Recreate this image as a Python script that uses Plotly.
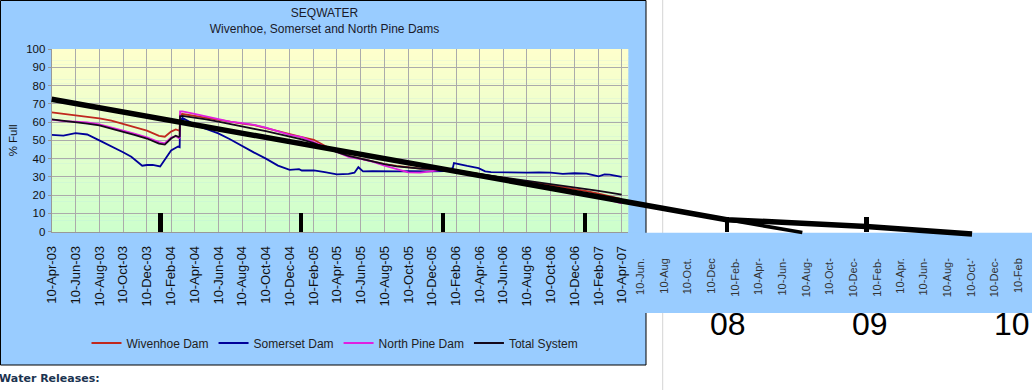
import datetime as dt
import plotly.graph_objects as go

# ---------------- data ----------------
main_dates = [
    "2003-04-10", "2003-05-10", "2003-06-10", "2003-07-10", "2003-08-10", "2003-09-10",
    "2003-10-10", "2003-11-10", "2003-12-10", "2004-01-10",
    "2004-01-25", "2004-02-10", "2004-02-22", "2004-03-01", "2004-03-03", "2004-03-04",
    "2004-03-10", "2004-04-10", "2004-05-10", "2004-06-10", "2004-07-10", "2004-08-10",
    "2004-09-10", "2004-10-10", "2004-11-10", "2004-12-10",
    "2005-01-10", "2005-02-10", "2005-03-10", "2005-04-10", "2005-05-10", "2005-06-10",
    "2005-07-10", "2005-08-10", "2005-09-10", "2005-10-10", "2005-11-10", "2005-12-10",
    "2006-01-10", "2006-02-10", "2006-03-10", "2006-04-10", "2006-05-10", "2006-06-10",
    "2006-07-10", "2006-08-10", "2006-09-10", "2006-10-10", "2006-11-10", "2006-12-10",
    "2007-01-10", "2007-02-10", "2007-03-10", "2007-04-10",
]
wivenhoe = [
    65.3, 64.5, 63.8, 63.0, 62.0, 60.8, 59.0, 57.2, 55.3, 52.5,
    52.0, 54.8, 56.0, 55.4, 55.7, 64.0,
    64.4, 63.4, 62.3, 61.2, 60.1, 59.2, 58.3, 56.6, 55.0, 53.2,
    51.8, 50.3, 47.0, 44.0, 41.5, 40.0, 38.5, 37.0, 36.0, 35.2, 34.5, 34.3,
    34.2, 33.5, 32.5, 31.5, 30.5, 29.5, 28.5, 27.5, 26.5, 25.5, 24.5, 23.4,
    22.2, 20.8, 19.3, 17.8,
]
north_pine = [
    61.4, 60.5, 60.3, 59.8, 58.8, 57.2, 55.3, 53.6, 51.7, 49.0,
    48.4, 51.5, 52.3, 51.2, 51.5, 65.8,
    65.8, 64.5, 63.0, 61.3, 60.2, 59.4, 58.5, 57.0, 55.0, 53.0,
    51.8, 49.0, 46.5, 43.8, 41.0, 39.8, 38.3, 36.2, 34.3, 32.5, 32.3, 33.0,
    34.0, 33.6, 32.5, 31.3, 30.2, 29.0, 27.9, 26.7, 25.5, 24.3, 23.0, 21.8,
    20.4, 18.9, 17.2, 15.5,
]
total_system = [
    61.5, 60.8, 60.2, 59.2, 58.2, 56.5, 54.5, 52.8, 51.0, 48.2,
    47.7, 51.0, 52.5, 51.8, 52.2, 63.2,
    63.4, 62.6, 61.5, 60.2, 58.8, 57.5, 56.3, 55.0, 53.6, 52.2,
    50.5, 48.5, 46.0, 43.5, 41.5, 40.0, 38.3, 37.0, 35.8, 35.0, 34.5, 34.4,
    34.0, 33.3, 32.5, 31.6, 30.7, 29.8, 28.9, 28.0, 27.1, 26.2, 25.3, 24.4,
    23.4, 22.4, 21.4, 20.3,
]
somerset_dates = [
    "2003-04-10", "2003-05-10", "2003-06-10", "2003-07-10", "2003-08-10", "2003-09-10",
    "2003-10-10", "2003-10-31", "2003-11-28", "2003-12-10", "2003-12-25", "2004-01-13",
    "2004-01-22", "2004-02-10", "2004-02-28", "2004-03-03", "2004-03-04", "2004-03-10",
    "2004-04-10", "2004-05-10", "2004-06-10", "2004-07-10", "2004-08-10", "2004-09-10",
    "2004-10-10", "2004-11-10", "2004-12-10", "2005-01-03", "2005-01-10", "2005-02-10",
    "2005-03-10", "2005-04-10", "2005-05-10", "2005-05-25", "2005-06-04", "2005-06-16",
    "2005-07-10", "2005-08-10", "2005-09-10", "2005-10-10", "2005-11-10", "2005-12-10",
    "2006-01-10", "2006-02-01", "2006-02-04", "2006-02-20", "2006-03-10", "2006-04-08",
    "2006-04-25", "2006-05-10", "2006-06-10", "2006-07-10", "2006-08-10", "2006-09-10",
    "2006-10-10", "2006-11-10", "2006-12-10", "2007-01-10", "2007-02-10", "2007-02-25",
    "2007-03-10", "2007-04-10",
]
somerset = [
    53.0, 52.6, 53.9, 53.2, 50.0, 46.8,
    43.5, 41.0, 36.1, 36.5, 36.6, 35.7,
    38.4, 44.5, 46.6, 46.3, 61.0, 62.3,
    58.6, 56.2, 53.8, 50.6, 46.8, 43.3,
    40.0, 36.2, 33.8, 34.2, 33.5, 33.6,
    32.6, 31.4, 31.6, 32.3, 35.3, 33.0,
    33.2, 33.0, 33.0, 33.2, 33.0, 33.0,
    33.2, 34.8, 37.6, 37.0, 36.0, 34.8,
    33.0, 32.6, 32.4, 32.3, 32.3, 32.4,
    32.3, 31.7, 32.0, 31.8, 30.3, 31.3,
    31.2, 30.0,
]
trend_dates = ["2003-04-10", "2008-01-04", "2008-12-27", "2009-09-24"]
trend_values = [72.5, 6.6, 2.9, -1.3]
trend2_dates = ["2008-01-04", "2008-07-16"]
trend2_values = [6.6, -0.4]
marker_dates = ["2004-01-14", "2005-01-08", "2006-01-07", "2007-01-06", "2008-01-05", "2008-12-27"]
marker_values = [10, 10, 10, 10, 8, 8]

x_tick_labels = [
    "10-Apr-03", "10-Jun-03", "10-Aug-03", "10-Oct-03", "10-Dec-03",
    "10-Feb-04", "10-Apr-04", "10-Jun-04", "10-Aug-04", "10-Oct-04", "10-Dec-04",
    "10-Feb-05", "10-Apr-05", "10-Jun-05", "10-Aug-05", "10-Oct-05", "10-Dec-05",
    "10-Feb-06", "10-Apr-06", "10-Jun-06", "10-Aug-06", "10-Oct-06", "10-Dec-06",
    "10-Feb-07", "10-Apr-07",
]
ext_tick_dates = [
    "2007-06-10", "2007-08-10", "2007-10-10", "2007-12-10", "2008-02-10", "2008-04-10",
    "2008-06-10", "2008-08-10", "2008-10-10", "2008-12-10", "2009-02-10", "2009-04-10",
    "2009-06-10", "2009-08-10", "2009-10-10", "2009-12-10", "2010-02-10",
]
ext_tick_labels = [
    "10-Jun.", "10-Aug", "10-Oct.", "10-Dec", "10-Feb-", "10-Apr-",
    "10-Jun-", "10-Aug-", "10-Oct-", "10-Dec-", "10-Feb-", "10-Apr.",
    "10-Jun-", "10-Aug-", "10-Oct-'", "10-Dec-", "10-Feb",
]
y_ticks = [0, 10, 20, 30, 40, 50, 60, 70, 80, 90, 100]
year_labels = ["08", "09", "10"]
year_label_dates = ["2008-01-08", "2009-01-06", "2010-01-04"]

# ---------------- geometry helpers ----------------
W, H = 1032, 390
FONT = "Liberation Sans, Arial, sans-serif"


def fx(px):
    return px / W


def fy(py):
    return 1 - py / H


PLOT_L, PLOT_R, PLOT_T, PLOT_B = 51.7, 628.3, 49.0, 231.7
PX_PER_PCT = (PLOT_B - PLOT_T) / 100.0
ORIGIN = dt.datetime(2003, 4, 10)
PX_PER_DAY = (621.7 - PLOT_L) / 1461.0


def date_at(px, origin=ORIGIN, px0=PLOT_L, ppd=PX_PER_DAY):
    return (origin + dt.timedelta(days=(px - px0) / ppd)).strftime("%Y-%m-%d %H:%M:%S")


left_tick_dates = [dt.datetime.strptime(s, "%d-%b-%y").strftime("%Y-%m-%d") for s in x_tick_labels]

# extension axis has its own (slightly different) scale, anchored to its first/last labels
E0 = dt.datetime.strptime(ext_tick_dates[0], "%Y-%m-%d")
E1 = dt.datetime.strptime(ext_tick_dates[-1], "%Y-%m-%d")
E_PX0, E_PX1 = 640.5, 1018.8
E_PPD = (E_PX1 - E_PX0) / (E1 - E0).days

# ---------------- figure ----------------
fig = go.Figure()

series = [
    ("Wivenhoe Dam", main_dates, wivenhoe, "#C0281E"),
    ("Somerset Dam", somerset_dates, somerset, "#000099"),
    ("North Pine Dam", main_dates, north_pine, "#E020E0"),
    ("Total System", main_dates, total_system, "#14081A"),
]
for name, xs, ys, col in series:
    fig.add_trace(go.Scatter(x=xs, y=ys, name=name, mode="lines",
                             line=dict(color=col, width=1.8),
                             xaxis="x", yaxis="y", hoverinfo="skip"))

fig.add_trace(go.Bar(x=marker_dates, y=marker_values, width=11.5 * 86400000,
                     marker=dict(color="black", line=dict(width=0)),
                     xaxis="x2", yaxis="y2", showlegend=False, hoverinfo="skip"))
fig.add_trace(go.Scatter(x=trend_dates, y=trend_values, mode="lines",
                         line=dict(color="black", width=5.5),
                         xaxis="x2", yaxis="y2", showlegend=False, hoverinfo="skip"))
fig.add_trace(go.Scatter(x=trend2_dates, y=trend2_values, mode="lines",
                         line=dict(color="black", width=3.5),
                         xaxis="x2", yaxis="y2", showlegend=False, hoverinfo="skip"))
fig.add_trace(go.Scatter(x=[], y=[], xaxis="x3", yaxis="y3", showlegend=False))

# ---------------- background shapes ----------------
shapes = []
shapes.append(dict(type="rect", xref="paper", yref="paper",
                   x0=fx(0.5), x1=fx(646), y0=fy(365), y1=fy(0.5),
                   fillcolor="#99CCFF", line=dict(color="black", width=1), layer="below"))
N = 48
top_c, bot_c = (255, 255, 204), (204, 255, 204)
for i in range(N):
    t = (i + 0.5) / N
    c = tuple(round(top_c[k] + (bot_c[k] - top_c[k]) * t) for k in range(3))
    ya = PLOT_T + (PLOT_B - PLOT_T) * i / N
    yb = PLOT_T + (PLOT_B - PLOT_T) * (i + 1) / N
    shapes.append(dict(type="rect", xref="paper", yref="paper",
                       x0=fx(PLOT_L), x1=fx(PLOT_R), y0=fy(yb + 0.3), y1=fy(ya),
                       fillcolor="rgb(%d,%d,%d)" % c, line=dict(width=0), layer="below"))
shapes.append(dict(type="line", xref="paper", yref="paper",
                   x0=fx(662.7), x1=fx(662.7), y0=0, y1=1,
                   line=dict(color="#D4D4D4", width=1), layer="below"))
shapes.append(dict(type="rect", xref="paper", yref="paper",
                   x0=fx(614), x1=1, y0=fy(313), y1=fy(232.7),
                   fillcolor="#99CCFF", line=dict(width=0), layer="below"))

annotations = []
for lab, d in zip(year_labels, year_label_dates):
    annotations.append(dict(text=lab, x=d, xref="x2", y=fy(324), yref="paper",
                            showarrow=False, xanchor="center", yanchor="middle",
                            font=dict(family=FONT, size=32, color="black")))
annotations.append(dict(text="<b>Water Releases:</b>", x=fx(-3), xref="paper",
                        y=fy(378), yref="paper", showarrow=False,
                        xanchor="left", yanchor="middle",
                        font=dict(family="DejaVu Sans, Verdana, sans-serif", size=11, color="#1B3350")))

grid_c = "#ABABAB"
fig.update_layout(
    width=W, height=H, margin=dict(l=0, r=0, t=0, b=0, autoexpand=False),
    paper_bgcolor="white", plot_bgcolor="rgba(0,0,0,0)",
    shapes=shapes, annotations=annotations,
    title=dict(text="SEQWATER<br>Wivenhoe, Somerset and North Pine Dams",
               x=fx(324.5), xref="paper", xanchor="center",
               y=fy(17), yref="container", yanchor="top", automargin=False,
               font=dict(family=FONT, size=12, color="#1A1A2A")),
    legend=dict(orientation="h", x=fx(335), xanchor="center", y=fy(343), yanchor="middle",
                font=dict(family=FONT, size=12, color="#222222"),
                bgcolor="rgba(0,0,0,0)", traceorder="normal"),
    xaxis=dict(domain=[fx(PLOT_L), fx(PLOT_R)], type="date",
               range=[date_at(PLOT_L), date_at(PLOT_R)],
               tickmode="array", tickvals=left_tick_dates, ticktext=x_tick_labels,
               tickangle=-90, tickfont=dict(family=FONT, size=13, color="#111111"),
               showgrid=True, gridcolor=grid_c, gridwidth=1,
               showline=True, linecolor="#999999", zeroline=False, ticks="",
               ticklabelstandoff=8, anchor="y", automargin=False, fixedrange=True),
    yaxis=dict(domain=[fy(PLOT_B), fy(PLOT_T)], range=[0, 100],
               tickmode="array", tickvals=y_ticks,
               tickfont=dict(family=FONT, size=11.5, color="#111111"),
               showgrid=True, gridcolor=grid_c, gridwidth=1,
               showline=True, linecolor="#999999", zeroline=False,
               ticks="outside", ticklen=3, tickcolor="#999999",
               title=dict(text="% Full", font=dict(family=FONT, size=11.5, color="#111111"), standoff=6),
               anchor="x", automargin=False, fixedrange=True),
    xaxis2=dict(domain=[0, 1], type="date", range=[date_at(0), date_at(W)],
                visible=False, anchor="y2", automargin=False, fixedrange=True),
    yaxis2=dict(domain=[fy(PLOT_B + 3 * PX_PER_PCT), fy(PLOT_T)], range=[-3, 100],
                visible=False, anchor="x2", automargin=False, fixedrange=True),
    xaxis3=dict(domain=[fx(PLOT_R), 1], type="date",
                range=[date_at(PLOT_R, E0, E_PX0, E_PPD), date_at(W, E0, E_PX0, E_PPD)],
                tickmode="array", tickvals=ext_tick_dates, ticktext=ext_tick_labels,
                tickangle=-90, tickfont=dict(family=FONT, size=11, color="#333333"),
                showgrid=False, showline=False, zeroline=False, ticks="",
                anchor="y3", automargin=False, fixedrange=True),
    yaxis3=dict(domain=[fy(255), fy(245)], range=[0, 1], visible=False,
                anchor="x3", automargin=False, fixedrange=True),
    bargap=0,
)

fig.write_html("out.html",
               config={"displayModeBar": False},
               post_script="document.body.style.margin='0';document.body.style.overflow='hidden';")
